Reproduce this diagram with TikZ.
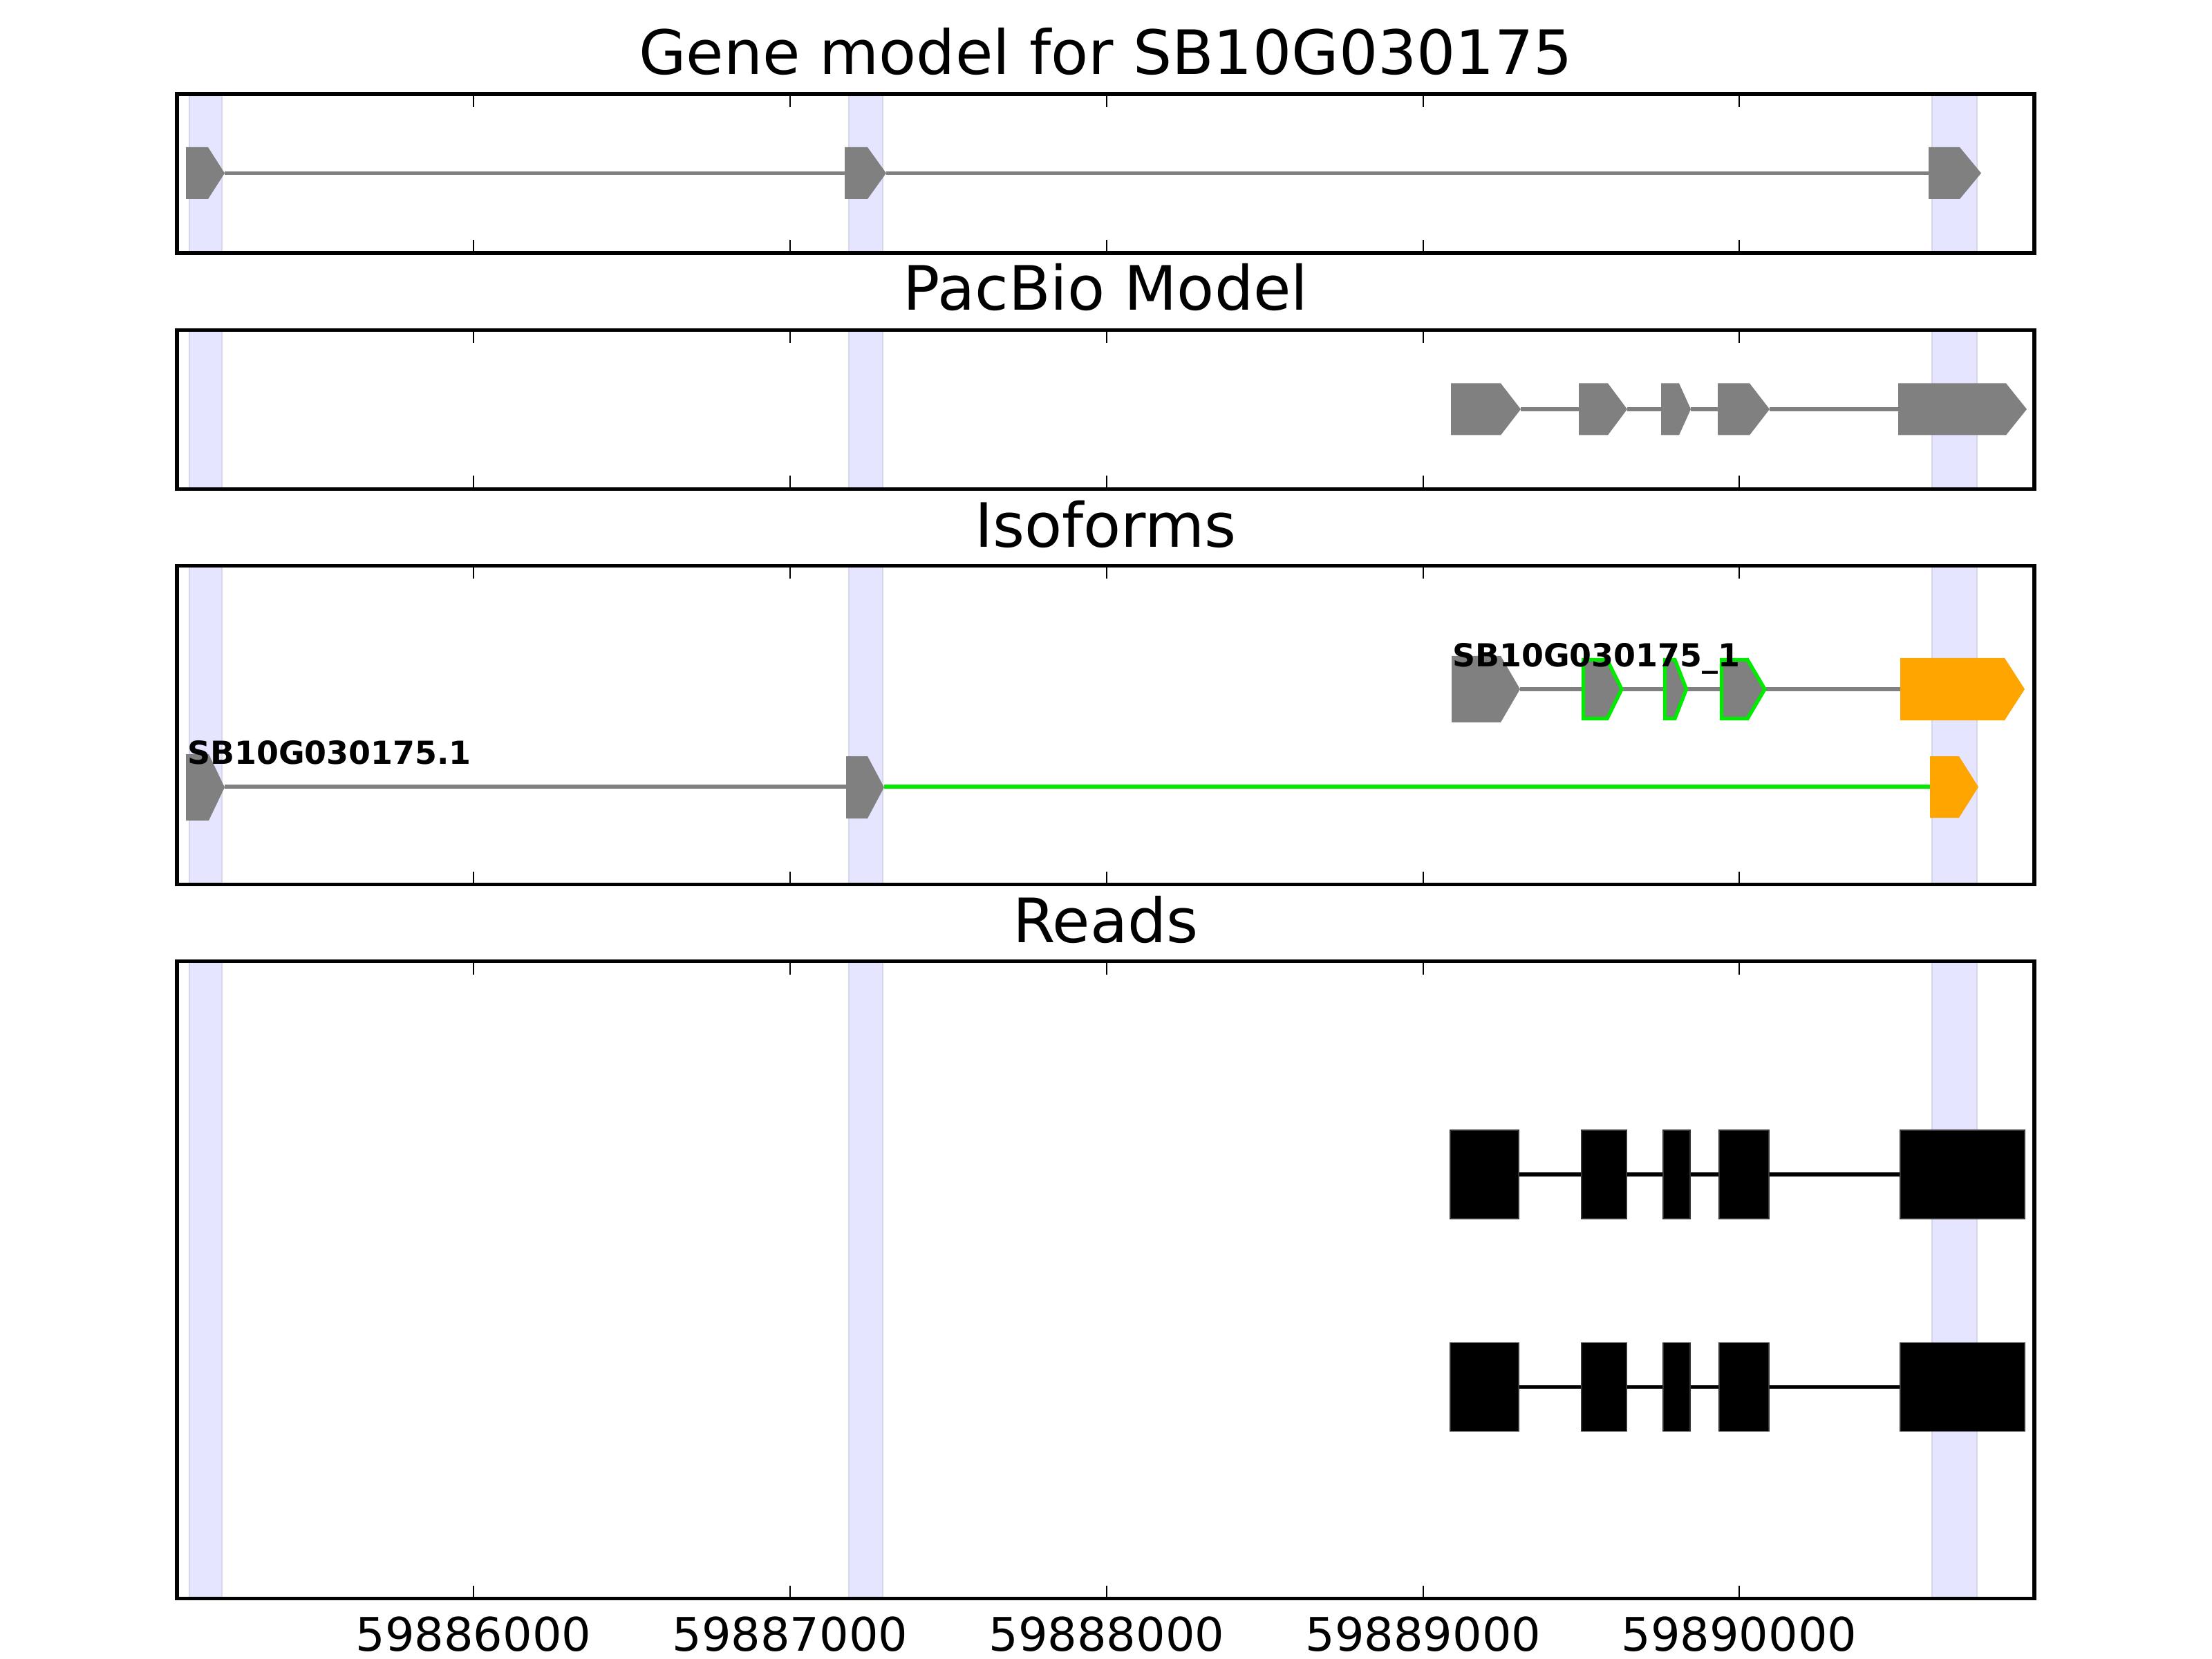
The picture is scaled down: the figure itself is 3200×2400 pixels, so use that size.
\documentclass[tikz,border=0pt]{standalone}
\usepackage{fontspec}
\setmainfont{DejaVu Sans}
\usepackage{tikz}

\definecolor{bandblue}{RGB}{229,229,255}
\definecolor{bandedge}{RGB}{214,214,236}
\definecolor{isoorange}{RGB}{255,165,0}
\definecolor{novelgreen}{RGB}{0,235,0}

% exon with arrow tip: [style] left, flat end, tip, top, bottom
\newcommand{\exonarrow}[6][exon]{\path[#1] (#2,#5) -- (#3,#5) -- (#4,{(#5+#6)/2}) -- (#3,#6) -- (#2,#6) -- cycle;}

\begin{document}
\begin{tikzpicture}[x=0.0025in,y=-0.0025in]
\tikzstyle{exon}=[fill=gray]
\tikzstyle{novelexon}=[fill=gray,draw=novelgreen,line width=0.95pt,line join=miter]
\tikzstyle{isoexon}=[fill=isoorange]
\tikzstyle{intron}=[line width=1pt]
\tikzstyle{band}=[fill=bandblue,draw=bandedge,line width=0.5pt]
\tikzstyle{readbox}=[fill=black,draw=black!80,line width=0.3pt]
\tikzstyle{frame}=[line width=1pt]
\tikzstyle{paneltitle}=[font=\fontsize{16}{19}\selectfont,anchor=base,inner sep=0pt]
\tikzstyle{ticklabel}=[font=\fontsize{12.1}{14}\selectfont,anchor=base,inner sep=0pt]
\tikzstyle{isolabel}=[font=\bfseries\fontsize{8.3}{10}\selectfont,anchor=base west,inner sep=0pt]
\useasboundingbox[fill=white] (0,0) rectangle (3200,2400);

% shaded exon bands
\foreach \top/\bot in {136/366,477.5/707.5,818.5/1279.5,1390.5/2312.5}
  \foreach \a/\b in {274/321,1228/1277,2795/2860}
    \path[band] (\a,\top) rectangle (\b,\bot);

% gene model
\draw[intron,gray] (325,250.5) -- (1222,250.5) (1282,250.5) -- (2790,250.5);
\exonarrow{269}{301}{325}{213}{288}
\exonarrow{1222}{1255}{1282}{213}{288}
\exonarrow{2790}{2835}{2866}{213}{288}

% pacbio model
\draw[intron,gray] (2200,592) -- (2284,592) (2354,592) -- (2403,592)
  (2446,592) -- (2485,592) (2560,592) -- (2746,592);
\exonarrow{2099}{2171}{2200}{554.5}{629.5}
\exonarrow{2284}{2326}{2354}{554.5}{629.5}
\exonarrow{2403}{2429}{2446}{554.5}{629.5}
\exonarrow{2485}{2531}{2560}{554.5}{629.5}
\exonarrow{2746}{2902}{2932}{554.5}{629.5}

% isoforms
\draw[intron,gray] (2199,997) -- (2754,997);
\exonarrow{2100}{2171}{2199}{949}{1045}
\exonarrow[novelexon]{2290.5}{2325}{2346}{954.5}{1039.5}
\exonarrow[novelexon]{2408.5}{2423}{2439.5}{954.5}{1039.5}
\exonarrow[novelexon]{2490.5}{2528}{2553}{954.5}{1039.5}
\exonarrow[isoexon]{2749}{2900}{2929}{952}{1042}
\node[isolabel] (iso1) at (2100,964) {SB10G030175\_1};

\draw[intron,gray] (325,1138) -- (1224,1138);
\draw[intron,novelgreen] (1279,1138) -- (2796,1138);
\exonarrow{269}{302}{325}{1091}{1187}
\exonarrow{1224}{1255}{1279}{1094}{1184}
\exonarrow[isoexon]{2792}{2834}{2862}{1094}{1183}
\node[isolabel] (iso2) at (270,1106) {SB10G030175.1};

% reads
\foreach \yc in {1699,2006.5} {
  \draw[intron] (2097,\yc) -- (2929,\yc);
  \foreach \a/\b in {2098/2197,2288/2353,2406/2445,2487/2559,2749/2929}
    \path[readbox] (\a,{\yc-64}) rectangle (\b,{\yc+64});
}

% frames and ticks
\foreach \top/\bot in {136/366,477.5/707.5,818.5/1279.5,1390.5/2312.5} {
  \draw[frame] (256,\top) rectangle (2943,\bot);
  \foreach \t in {685,1143,1601,2059,2516}
    \draw[line width=0.5pt] (\t,\top) -- ++(0,19) (\t,\bot) -- ++(0,-19);
}

\node[paneltitle] (genetitle) at (1599.5,108) {Gene model for SB10G030175};
\node[paneltitle] (pacbiotitle) at (1599.5,449) {PacBio Model};
\node[paneltitle] (isotitle) at (1599.5,791) {Isoforms};
\node[paneltitle] (readstitle) at (1599.5,1363) {Reads};

\foreach \t/\lab in {685/59886000,1143/59887000,1601/59888000,2059/59889000,2516/59890000}
  \node[ticklabel] (tick\lab) at (\t,2388) {\lab};
\end{tikzpicture}
\end{document}
